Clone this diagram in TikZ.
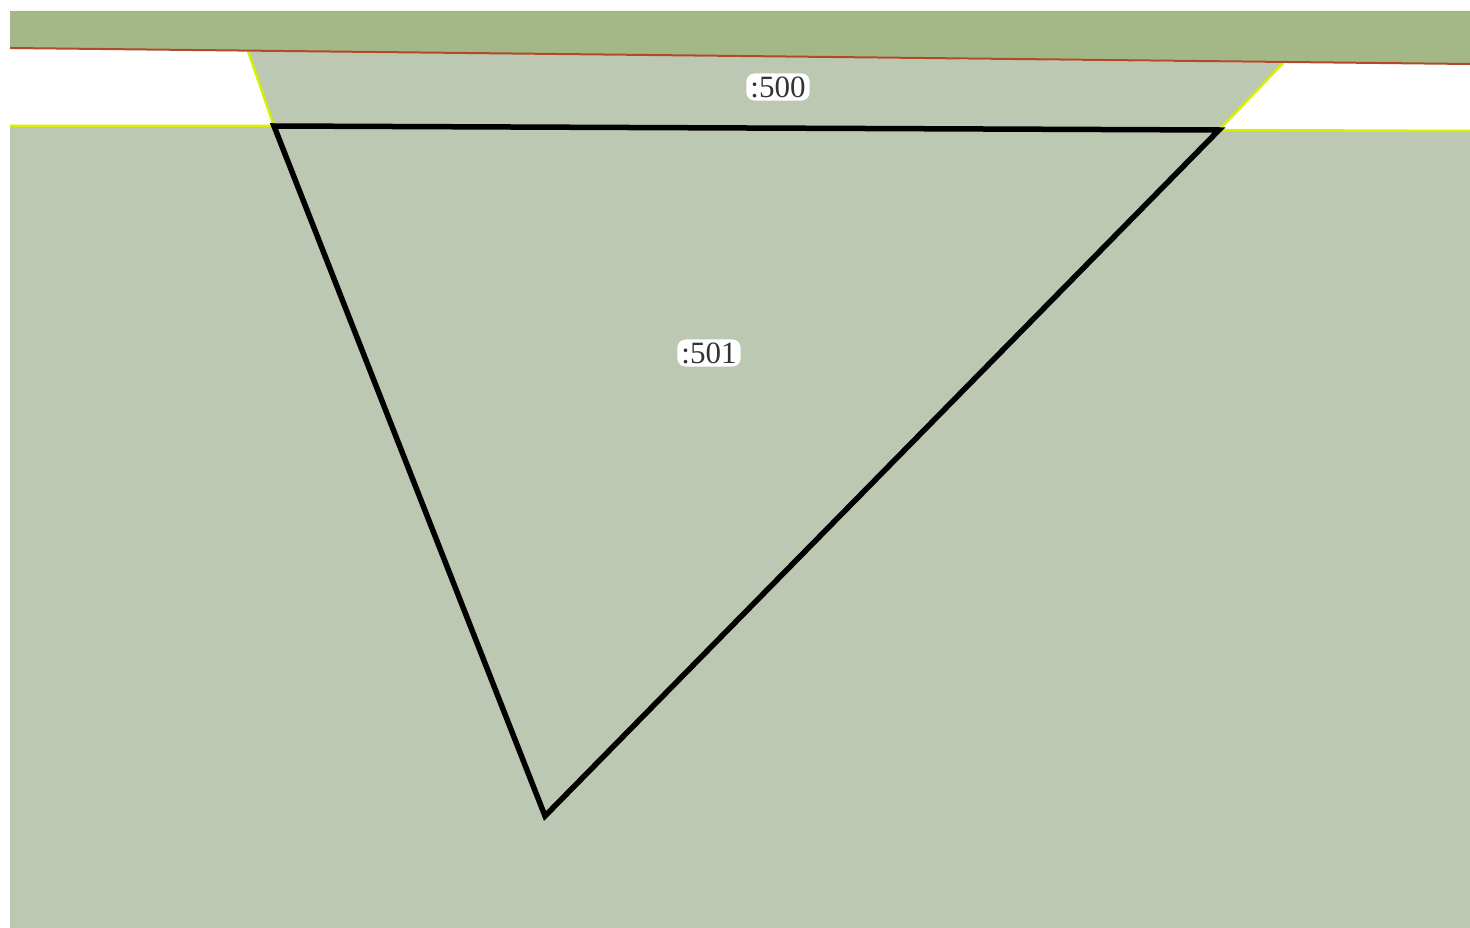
\documentclass[tikz,border=0pt]{standalone}
\usepackage{fontspec}
\setmainfont{Liberation Serif}
\begin{document}
\begin{tikzpicture}[x=1pt,y=-1pt,
  bandfill/.style={fill=bandgreen},
  areafill/.style={fill=lightgreen},
  edgeline/.style={draw=edgeyellow,line width=2.5pt},
  redline/.style={draw=edgered,line width=2pt},
  tri/.style={draw=black,line width=5.5pt,line join=miter},
  lbl/.style={fill=white,rounded corners=8pt,inner xsep=4pt,inner ysep=3pt,font=\fontsize{31}{36}\selectfont,text=black!80}]
\definecolor{bandgreen}{HTML}{A3B886}
\definecolor{lightgreen}{HTML}{BCC8B2}
\definecolor{edgeyellow}{HTML}{D8F000}
\definecolor{edgered}{HTML}{B04A28}
\useasboundingbox (0,0) rectangle (1470,928);
\fill[white] (0,0) rectangle (1470,928);
% corner coordinates
\coordinate (bl) at (10,48);
\coordinate (br) at (1470,64);
\coordinate (tl) at (248,51);
\coordinate (tr) at (1283,63);
\coordinate (A) at (274,126);
\coordinate (B) at (1219,130);
\coordinate (C) at (545,816);
\coordinate (gl) at (10,126);
\coordinate (gr) at (1470,131);
% lower area
\fill[areafill] (gl) -- (A) -- (B) -- (gr) -- (1470,928) -- (10,928) -- cycle;
% trapezoid
\fill[areafill] (tl) -- (tr) -- (B) -- (A) -- cycle;
% top band
\fill[bandfill] (10,11) -- (1470,11) -- (br) -- (bl) -- cycle;
% edges
\draw[edgeline] (gl) -- (A) -- (tl);
\draw[edgeline] (gr) -- (B) -- (tr);
\draw[redline] (bl) -- (br);
% triangle
\draw[tri] (A) -- (B) -- (C) -- cycle;
% labels
\node[lbl] (l500) at (778,87) {:500};
\node[lbl] (l501) at (709,353) {:501};
\end{tikzpicture}
\end{document}
